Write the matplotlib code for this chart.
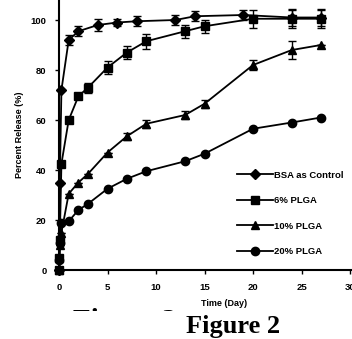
import matplotlib
matplotlib.use("Agg")
import matplotlib.pyplot as plt
from matplotlib.patches import Rectangle
from matplotlib.lines import Line2D

# ---- data ----
bsa_days = [0, 0.08, 0.25, 1, 2, 4, 6, 8, 12, 14, 19, 24, 27]
bsa_vals = [0, 35, 72, 92, 95.5, 98, 99, 99.5, 100, 101.5, 102, 101, 101]
bsa_err = [0, 0, 0, 2, 2, 2.5, 1.5, 2, 2, 2, 2, 3.5, 3.5]

p6_days = [0, 0.04, 0.08, 0.25, 1, 2, 3, 5, 7, 9, 13, 15, 20, 24, 27]
p6_vals = [0, 5, 12, 42.5, 60, 69.5, 73, 81, 87, 91.5, 95.5, 97.5, 100.5, 100.5, 100.5]
p6_err = [0, 0, 0, 0, 0, 0, 2, 2.5, 2.5, 3, 2.5, 2.5, 3.5, 3.5, 3.5]

p10_days = [0, 0.04, 0.08, 0.25, 1, 2, 3, 5, 7, 9, 13, 15, 20, 24, 27]
p10_vals = [0, 5, 10, 15, 30.5, 35, 38.5, 47, 53.5, 58.5, 62, 66.5, 82, 88, 90]
p10_err = [0, 0, 0, 0, 0, 0, 0, 0, 1.5, 1.5, 1.5, 1.5, 2, 3.5, 0]

p20_days = [0, 0.04, 0.08, 0.25, 1, 2, 3, 5, 7, 9, 13, 15, 20, 24, 27]
p20_vals = [0, 4, 11, 19, 19.5, 24, 26.5, 32.5, 36.5, 39.5, 43.5, 46.5, 56.5, 59, 61]

labels = ["BSA as Control", "6% PLGA", "10% PLGA", "20% PLGA"]
markers = ['D', 's', '^', 'o']
msizes = [5, 5.5, 6, 6]
xticks = [0, 5, 10, 15, 20, 25, 30]
yticks = [0, 20, 40, 60, 80, 100]

plt.rcParams['font.family'] = ['Liberation Sans', 'DejaVu Sans']

fig = plt.figure(figsize=(3.52, 3.39), dpi=100)
ax = fig.add_axes([59/352, 1-270/339, 1-59/352, 270/339])

common = dict(color='black', lw=1.3, capsize=3, elinewidth=1.0, capthick=1.0,
              clip_on=False)
ax.errorbar(bsa_days, bsa_vals, yerr=bsa_err, marker=markers[0], ms=msizes[0], **common)
ax.errorbar(p6_days, p6_vals, yerr=p6_err, marker=markers[1], ms=msizes[1], **common)
ax.errorbar(p10_days, p10_vals, yerr=p10_err, marker=markers[2], ms=msizes[2], **common)
ax.plot(p20_days, p20_vals, color='black', lw=1.3, marker=markers[3], ms=msizes[3], clip_on=False)

ax.set_xlim(0, 30.2)
ax.set_ylim(0, 108)
ax.set_xticks(xticks)
ax.set_yticks(yticks)
ax.spines['top'].set_visible(False)
ax.spines['right'].set_visible(False)
ax.spines['left'].set_linewidth(1.5)
ax.spines['bottom'].set_linewidth(1.5)
ax.tick_params(direction='out', length=3, width=1, labelsize=6.8, pad=6)
for t in ax.get_xticklabels() + ax.get_yticklabels():
    t.set_fontweight('bold')

ax.set_ylabel("Percent Release (%)", fontsize=6.5, fontweight='bold', labelpad=5)
fig.text(224/352, 1-303/339, "Time (Day)", fontsize=6.5, fontweight='bold',
         ha='center', va='center')

handles = [Line2D([], [], color='black', lw=1.3, marker=m, ms=s)
           for m, s in zip(markers, msizes)]
leg = ax.legend(handles, labels, loc='lower right', bbox_to_anchor=(1.0, 0.02),
                frameon=False, handlelength=3.8, labelspacing=1.75,
                handletextpad=0.1, prop={'weight': 'bold', 'size': 6.8})

# partially hidden caption text
fig.text(73/352, 1-329/339, "Figure 2", fontsize=21, fontweight='bold',
         family=['Liberation Serif'], ha='left', va='baseline', zorder=3)
fig.patches.append(Rectangle((0, 0), 185/352, 1-311/339, transform=fig.transFigure,
                             facecolor='white', edgecolor='none', zorder=4))
fig.text(233/352, 1-333/339, "Figure 2", fontsize=19, fontweight='bold',
         family=['Liberation Serif'], ha='center', va='baseline', zorder=5)

fig.savefig("out.png", dpi=100)
